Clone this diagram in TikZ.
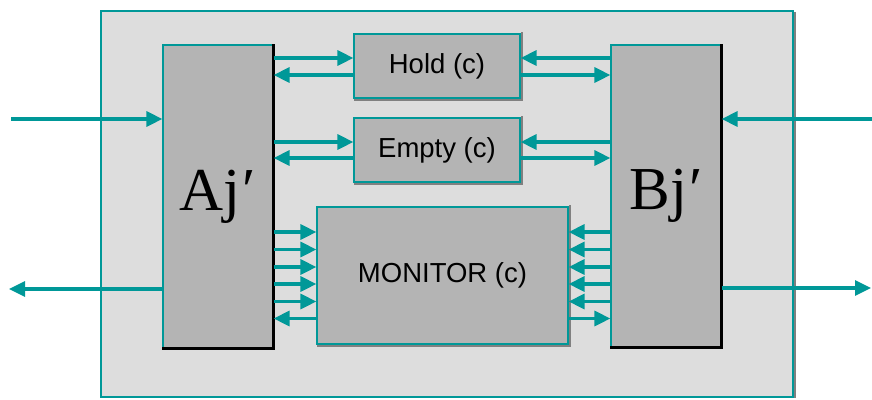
\documentclass[tikz,border=0pt]{standalone}
\usepackage{fontspec}
\setmainfont{Liberation Sans}
\newfontfamily\serifbig{Liberation Serif}
\usetikzlibrary{arrows.meta}

\definecolor{sigteal}{RGB}{0,152,152}
\definecolor{framefill}{RGB}{221,221,221}
\definecolor{blockfill}{RGB}{180,180,180}
\definecolor{shadowgray}{RGB}{128,128,128}

\begin{document}
\begin{tikzpicture}[x=1pt,y=-1pt,
    blok/.style={draw=sigteal, line width=1.2pt, fill=blockfill, inner sep=0pt},
    unit/.style={blok, font=\serifbig\fontsize{61}{64}\selectfont},
    cell/.style={blok, font=\fontsize{27.5}{30}\selectfont},
    sig/.style={sigteal, line width=3.2pt, -{Triangle[length=16pt,width=15pt]}}]
    \useasboundingbox (0,0) rectangle (872,399);

    % okvir
    \draw[sigteal, line width=1.5pt, fill=framefill] (101,11) rectangle (793,397);
    \draw[shadowgray, line width=2pt] (794.5,12) -- (794.5,398);

    \node[unit, minimum width=110, minimum height=303] (Aj) at (218,196.5) {Aj\kern2pt′};
    \node[unit, minimum width=110, minimum height=302] (Bj) at (666,196) {Bj\kern2pt′};
    \node[cell, minimum width=166, minimum height=64] (Hold) at (437,66) {Hold (c)};
    \node[cell, minimum width=166, minimum height=64] (Empty) at (437,150) {Empty (c)};
    \node[cell, minimum width=251, minimum height=137] (Monitor) at (442.5,275.5) {MONITOR (c)};

    % sjene
    \foreach \n in {Aj,Bj} {\draw[black, line width=3pt] (\n.north east) -- (\n.south east) -- (\n.south west);}
    \foreach \n in {Hold,Empty,Monitor} {\draw[shadowgray, line width=2pt] ([shift={(1.5,-1)}]\n.north east) -- ([shift={(1.5,1.5)}]\n.south east) -- ([shift={(1,1.5)}]\n.south west);}

    % Hold i Empty
    \foreach \b/\ya/\yb in {Hold/58/75, Empty/142/158} {
        \draw[sig] (Aj.east |- 0,\ya) -- (\b.west |- 0,\ya);
        \draw[sig] (\b.west |- 0,\yb) -- (Aj.east |- 0,\yb);
        \draw[sig] (Bj.west |- 0,\ya) -- (\b.east |- 0,\ya);
        \draw[sig] (\b.east |- 0,\yb) -- (Bj.west |- 0,\yb);
    }

    % Monitor
    \foreach \y in {232,249.5,267,284,301.5} {
        \draw[sig] (Aj.east |- 0,\y) -- (Monitor.west |- 0,\y);
        \draw[sig] (Bj.west |- 0,\y) -- (Monitor.east |- 0,\y);
    }
    \draw[sig] (Monitor.west |- 0,318.5) -- (Aj.east |- 0,318.5);
    \draw[sig] (Monitor.east |- 0,318.5) -- (Bj.west |- 0,318.5);

    % vanjski ulazi i izlazi
    \coordinate (inL) at (11,119); \coordinate (outL) at (9,289);
    \coordinate (inR) at (872,119); \coordinate (outR) at (871,288);
    \draw[sig] (inL) -- (Aj.west |- inL);
    \draw[sig] (Aj.west |- outL) -- (outL);
    \draw[sig] (inR) -- (Bj.east |- inR);
    \draw[sig] (Bj.east |- outR) -- (outR);
\end{tikzpicture}
\end{document}
